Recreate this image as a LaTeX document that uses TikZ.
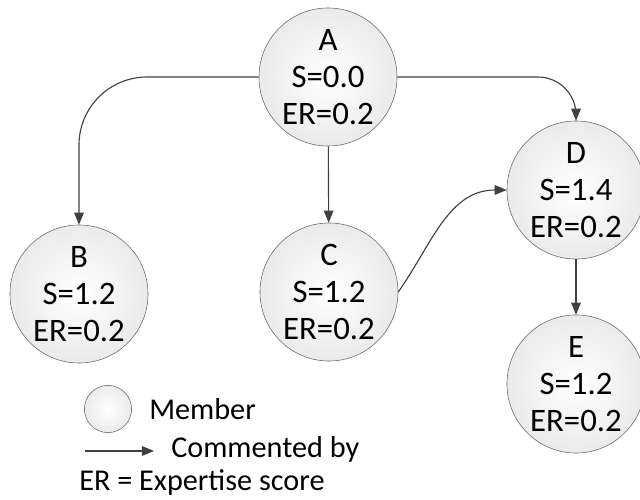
\documentclass[tikz,border=0pt]{standalone}
\usepackage{fontspec}
\setmainfont{Carlito}
\usetikzlibrary{shapes.geometric, arrows.meta, positioning}
\tikzset{
	member/.style  = {draw=black!60, circle, minimum size=3.45cm, inner sep=0pt, align=center, inner color=white, outer color=black!8, font=\fontsize{23.3}{26.5}\selectfont},
	legmark/.style = {draw=black!60, circle, minimum size=1.18cm, inner sep=0pt, inner color=white, outer color=black!8},
	legtext/.style = {anchor=west, inner sep=0pt, font=\fontsize{21.5}{25}\selectfont},
	arrow/.style   = {-{Triangle[length=3mm, width=2.4mm]}, draw=black!75, line width=0.8pt},
	point/.style   = {coordinate}
}

\begin{document}
\begin{tikzpicture}[x=0.025cm, y=-0.025cm]
	\useasboundingbox (0,0) rectangle (640,500);
	\node (A) [member] at (328,77)  {A\\S=0.0\\ER=0.2};
	\node (B) [member] at (79,294)  {B\\S=1.2\\ER=0.2};
	\node (C) [member] at (329,292) {C\\S=1.2\\ER=0.2};
	\node (D) [member] at (576,190) {D\\S=1.4\\ER=0.2};
	\node (E) [member] at (576,384) {E\\S=1.2\\ER=0.2};

	\draw [arrow, rounded corners=1.7cm] (A.west) -| (B.north);
	\draw [arrow, rounded corners=0.95cm] (A.east) -| (D.north);
	\draw [arrow] (A) -- (C);
	\draw [arrow] (C.east) to[out=55, in=180] (D.west);
	\draw [arrow] (D) -- (E);

	% legend
	\node (legmem) [legmark] at (108,409) {};
	\node (memtxt) [legtext] at (149,409) {Member};
	\node (legs)   [point] at (85,451) {};
	\node (lege)   [point] at (154,451) {};
	\draw [arrow] (legs) -- (lege);
	\node (comtxt) [legtext] at (171,449) {Commented by};
	\node (ertxt)  [legtext] at (79,482) {ER = Expertise score};
\end{tikzpicture}
\end{document}
